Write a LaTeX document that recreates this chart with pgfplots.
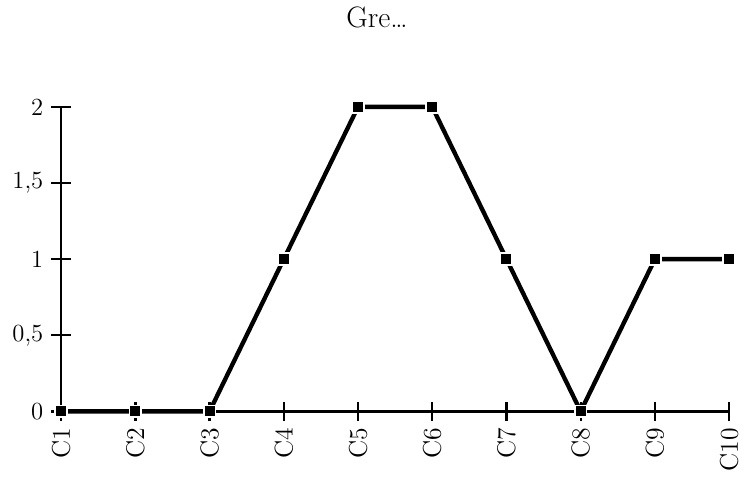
\documentclass[border=0pt]{standalone}
\usepackage{pgfplots}
\pgfplotsset{compat=1.18}

\begin{document}
\begin{tikzpicture}
\begin{axis}[
    scale only axis,
    width=339pt,
    height=154.5pt,
    at={(0,0)}, anchor=south west,
    xmin=0, xmax=9,
    ymin=0, ymax=2,
    axis x line=bottom,
    axis y line=left,
    axis line style={-, line width=1.4pt},
    tick style={line width=1.2pt, black},
    tick align=center,
    major tick length=10pt,
    xtick=data,
    xticklabels={C1,C2,C3,C4,C5,C6,C7,C8,C9,C10},
    xticklabel style={rotate=90, anchor=east, font=\fontsize{13}{15}\selectfont},
    ytick={0,0.5,1,1.5,2},
    yticklabels={0,{0,5},1,{1,5},2},
    yticklabel style={font=\fontsize{12.5}{15}\selectfont, xshift=-0.5pt},
    title={Gre\ldots},
    title style={at={(axis description cs:0.473,1.256)}, anchor=center, font=\fontsize{15}{17}\selectfont},
    clip=false,
]
\addplot[black, line width=2.2pt, mark=square*, mark size=3pt,
    mark options={fill=black, draw=white, line width=0.9pt}] coordinates {
    (0,0) (1,0) (2,0) (3,1) (4,2) (5,2) (6,1) (7,0) (8,1) (9,1)
};
\end{axis}
\useasboundingbox (-31pt,-29pt) rectangle (341.5pt,205pt);
\end{tikzpicture}
\end{document}
